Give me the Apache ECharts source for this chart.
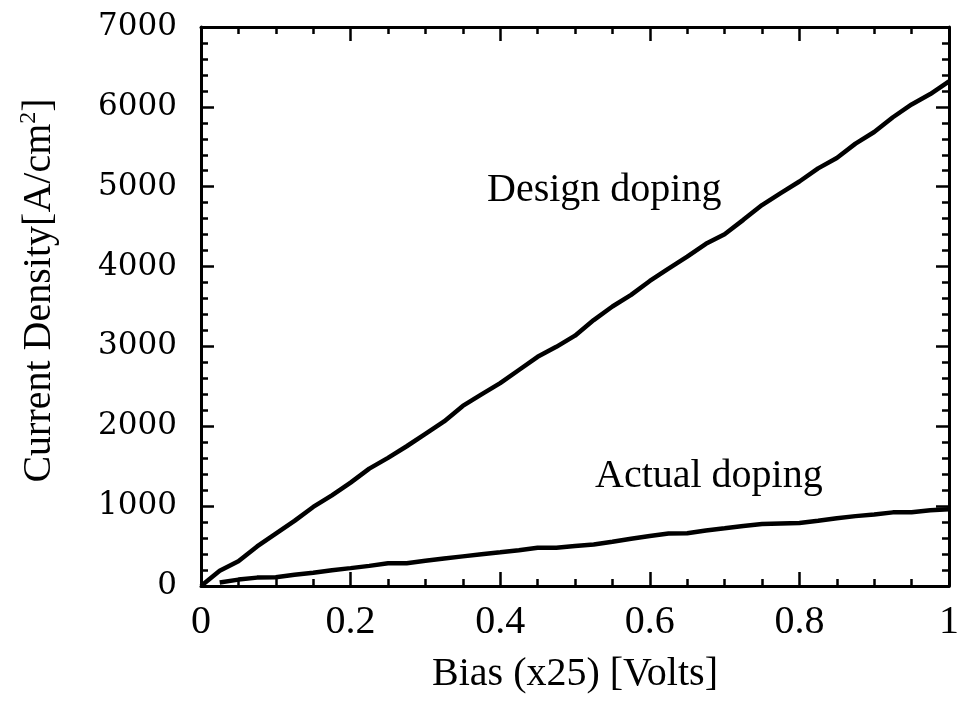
<!DOCTYPE html>
<html>
<head>
<meta charset="utf-8">
<script src="https://cdn.jsdelivr.net/npm/echarts@6/dist/echarts.min.js"></script>
<style>
html,body{margin:0;padding:0;background:#fff;}
#chart{width:964px;height:706px;}
</style>
</head>
<body>
<div id="chart"></div>
<script>
// Bias (x25) [Volts]
const biasDesign = [0, 0.025, 0.05, 0.075, 0.1, 0.125, 0.15, 0.175, 0.2, 0.225, 0.25, 0.275, 0.3, 0.325, 0.35, 0.375, 0.4, 0.425, 0.45, 0.475, 0.5, 0.525, 0.55, 0.575, 0.6, 0.625, 0.65, 0.675, 0.7, 0.725, 0.75, 0.775, 0.8, 0.825, 0.85, 0.875, 0.9, 0.925, 0.95, 0.975, 1.0];
const designDoping = [0, 190, 310, 495, 655, 815, 990, 1135, 1295, 1470, 1605, 1750, 1905, 2060, 2255, 2400, 2540, 2705, 2870, 2995, 3135, 3330, 3500, 3645, 3820, 3975, 4125, 4285, 4405, 4585, 4770, 4920, 5065, 5230, 5360, 5540, 5685, 5870, 6030, 6160, 6320];
const biasActual = [0.025, 0.05, 0.075, 0.1, 0.125, 0.15, 0.175, 0.2, 0.225, 0.25, 0.275, 0.3, 0.325, 0.35, 0.375, 0.4, 0.425, 0.45, 0.475, 0.5, 0.525, 0.55, 0.575, 0.6, 0.625, 0.65, 0.675, 0.7, 0.725, 0.75, 0.775, 0.8, 0.825, 0.85, 0.875, 0.9, 0.925, 0.95, 0.975, 1.0];
const actualDoping = [45, 80, 105, 110, 140, 167, 197, 224, 252, 284, 284, 315, 344, 371, 397, 422, 448, 478, 480, 500, 520, 553, 592, 627, 658, 660, 695, 723, 752, 775, 784, 790, 816, 848, 875, 895, 922, 923, 948, 960];
const seriesNames = ['Design doping', 'Actual doping'];
const xTitle = 'Bias (x25) [Volts]';

const chart = echarts.init(document.getElementById('chart'), null, {renderer: 'canvas'});

const lineStyleAxis = {show: true, onZero: false, lineStyle: {color: '#000', width: 3}};
function xAx(pos, showLabel) {
  return {
    type: 'value', position: pos, min: 0, max: 1, interval: 0.2,
    axisLine: lineStyleAxis,
    axisTick: {show: true, inside: true, length: 14, lineStyle: {color: '#000', width: 2.5}},
    minorTick: {show: true, splitNumber: 4, length: 7, lineStyle: {color: '#000', width: 2.5}},
    splitLine: {show: false},
    axisLabel: {show: showLabel, margin: 16, fontFamily: 'Liberation Serif', fontSize: 40, color: '#000',
      formatter: v => (v === 0 ? '0' : v === 1 ? '1' : String(+v.toFixed(1)))},
    name: showLabel ? xTitle : '', nameLocation: 'middle', nameGap: 68,
    nameTextStyle: {fontFamily: 'Liberation Serif', fontSize: 40, color: '#000'}
  };
}
function yAx(pos, showLabel) {
  return {
    type: 'value', position: pos, min: 0, max: 7000, interval: 1000,
    axisLine: lineStyleAxis,
    axisTick: {show: true, inside: true, length: 13, lineStyle: {color: '#000', width: 2.5}},
    minorTick: {show: true, splitNumber: 5, length: 7, lineStyle: {color: '#000', width: 2.5}},
    splitLine: {show: false},
    axisLabel: {show: showLabel, margin: 24, fontFamily: 'DejaVu Serif', fontSize: 31, color: '#000',
      formatter: v => String(v)},
    name: showLabel ? 'Current Density[A/cm{sup|2}]' : '', nameLocation: 'middle', nameGap: 140,
    nameTextStyle: {fontFamily: 'Liberation Serif', fontSize: 40, color: '#000', padding: [0, 0, 0, 32],
      rich: {sup: {fontFamily: 'Liberation Serif', fontSize: 24, color: '#000', verticalAlign: 'top', padding: [0, 0, 20, 0]}}}
  };
}

const option = {
  backgroundColor: '#fff',
  animation: false,
  grid: {left: 201, right: 15, top: 27, bottom: 120, containLabel: false},
  xAxis: [xAx('bottom', true), xAx('top', false)],
  yAxis: [yAx('left', true), yAx('right', false)],
  series: [
    {name: seriesNames[0], type: 'line', xAxisIndex: 0, yAxisIndex: 0, showSymbol: false, symbol: 'none',
      lineStyle: {color: '#000', width: 4.5}, data: biasDesign.map((x, i) => [x, designDoping[i]])},
    {name: seriesNames[1], type: 'line', xAxisIndex: 0, yAxisIndex: 0, showSymbol: false, symbol: 'none',
      lineStyle: {color: '#000', width: 4.5}, data: biasActual.map((x, i) => [x, actualDoping[i]])}
  ],
  graphic: [
    {type: 'text', left: 487, top: 170, style: {text: seriesNames[0], font: '40px "Liberation Serif"', fill: '#000'}},
    {type: 'text', left: 595, top: 456, style: {text: seriesNames[1], font: '40px "Liberation Serif"', fill: '#000'}}
  ]
};
chart.setOption(option);
</script>
</body>
</html>
